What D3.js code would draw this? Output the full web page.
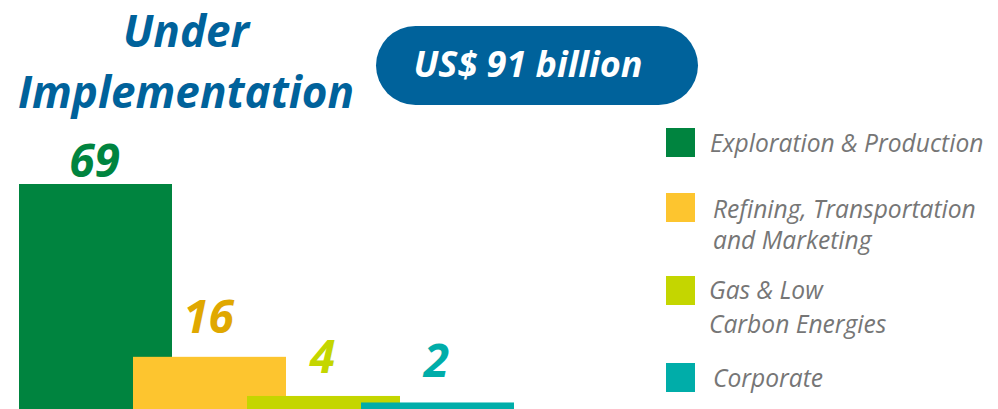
<!DOCTYPE html>
<html>
<head>
<meta charset="utf-8">
<script src="https://cdn.jsdelivr.net/npm/d3@7/dist/d3.min.js"></script>
<style>
  html, body { margin: 0; padding: 0; background: #ffffff; }
  svg { display: block; }
</style>
</head>
<body>
<svg id="chart" width="998" height="409"></svg>
<script>
// Investment under implementation by business segment (US$ billion)
const categories = [
  "Exploration & Production",
  "Refining, Transportation and Marketing",
  "Gas & Low Carbon Energies",
  "Corporate"
];
const values = [69, 16, 4, 2];
const legendLines = [
  ["Exploration & Production"],
  ["Refining, Transportation", "and Marketing"],
  ["Gas & Low", "Carbon Energies"],
  ["Corporate"]
];
const titleLines = ["Under", "Implementation"];
const totalLabel = "US$ 91 billion";

const barColors = ["#00843f", "#fdc52f", "#c4d600", "#00ada9"];
const labelColors = ["#00843f", "#e0a800", "#c4d600", "#00ada9"];
const blue = "#00629b";
const legendGrey = "#767676";
const font = "'Open Sans', 'Noto Sans', sans-serif";

const svg = d3.select("#chart");

// Scales: bar centres along x, values along y (baseline at the bottom edge)
const barWidth = 153;
const x = d3.scalePoint().domain(categories).range([95.5, 437.5]);
const y = d3.scaleLinear().domain([0, 69]).range([409, 184]);

// Bars overlap, each one drawn over the previous
svg.append("g").selectAll("rect")
  .data(categories)
  .join("rect")
  .attr("x", d => x(d) - barWidth / 2)
  .attr("y", (d, i) => y(values[i]))
  .attr("width", barWidth)
  .attr("height", (d, i) => y(0) - y(values[i]))
  .attr("fill", (d, i) => barColors[i]);

// Value labels above the bars
const labelGap = [7, 24, 23, 25];
svg.append("g").selectAll("text")
  .data(categories)
  .join("text")
  .attr("x", d => x(d) - 1)
  .attr("y", (d, i) => y(values[i]) - labelGap[i])
  .attr("text-anchor", "middle")
  .attr("font-family", font)
  .attr("font-weight", 700)
  .attr("font-style", "italic")
  .attr("font-size", 46)
  .attr("fill", (d, i) => labelColors[i])
  .text((d, i) => values[i]);

// Title
svg.append("g").selectAll("text")
  .data(titleLines)
  .join("text")
  .attr("x", 186)
  .attr("y", (d, i) => [47, 108][i])
  .attr("text-anchor", "middle")
  .attr("font-family", font)
  .attr("font-weight", 700)
  .attr("font-style", "italic")
  .attr("font-size", 44)
  .attr("fill", blue)
  .text(d => d);

// Total pill
const pill = svg.append("g");
pill.append("rect")
  .attr("x", 376).attr("y", 26)
  .attr("width", 322).attr("height", 79)
  .attr("rx", 39.5).attr("ry", 39.5)
  .attr("fill", blue);
pill.append("text")
  .attr("x", 528).attr("y", 77)
  .attr("text-anchor", "middle")
  .attr("font-family", font)
  .attr("font-weight", 700)
  .attr("font-style", "italic")
  .attr("font-size", 36)
  .attr("fill", "#ffffff")
  .text(totalLabel);

// Legend
const swatchTop = [128, 193, 276, 363];
const legendBaselines = [[152], [218, 249], [299, 333], [387]];
const legendX = [710, 713, 709, 713];
const legend = svg.append("g").selectAll("g")
  .data(categories)
  .join("g");
legend.append("rect")
  .attr("x", 666)
  .attr("y", (d, i) => swatchTop[i])
  .attr("width", 29).attr("height", 29)
  .attr("fill", (d, i) => barColors[i]);
legend.each(function(d, i) {
  d3.select(this).selectAll("text")
    .data(legendLines[i])
    .join("text")
    .attr("x", legendX[i])
    .attr("y", (t, j) => legendBaselines[i][j])
    .attr("font-family", font)
    .attr("font-style", "italic")
    .attr("font-weight", 400)
    .attr("font-size", 24.6)
    .attr("fill", legendGrey)
    .text(t => t);
});
</script>
</body>
</html>
